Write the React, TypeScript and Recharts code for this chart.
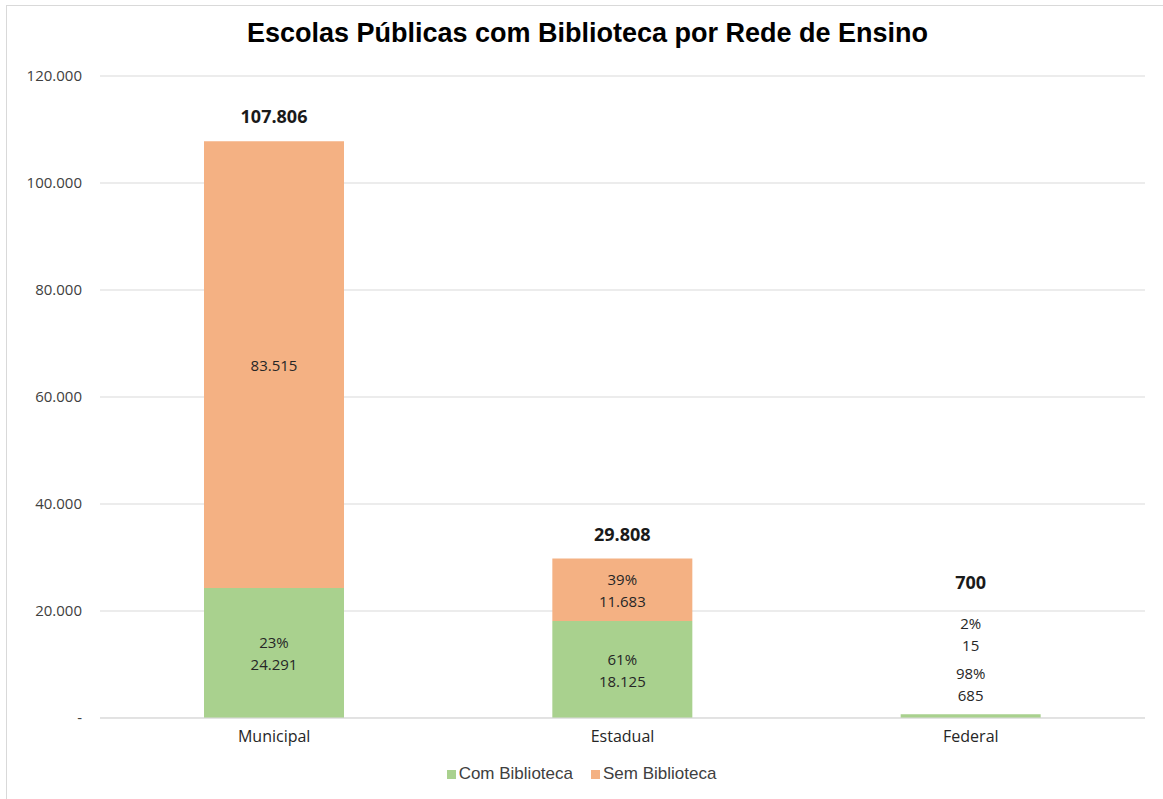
import React from 'react';
import { BarChart, Bar, XAxis, YAxis, CartesianGrid, LabelList } from 'recharts';

const categories = ['Municipal', 'Estadual', 'Federal'];
const comBiblioteca = [24291, 18125, 685];
const semBiblioteca = [83515, 11683, 15];
const comPct = ['23%', '61%', '98%'];
const semPct = ['', '39%', '2%'];
const yTicks = [0, 20000, 40000, 60000, 80000, 100000, 120000];

const GREEN = '#a9d18e';
const ORANGE = '#f4b183';
const LABEL_FONT = '"Open Sans", sans-serif';

const fmt = (n: number) => (n === 0 ? '-' : String(n).replace(/\B(?=(\d{3})+(?!\d))/g, '.'));

const chartData = categories.map((name, i) => ({
  name,
  com: comBiblioteca[i],
  sem: semBiblioteca[i],
  total: comBiblioteca[i] + semBiblioteca[i],
}));

// two-line label (pct + value), pushed above the bar when the segment is too thin
const segmentLabel = (pcts: string[], values: number[], liftIfSmall: number) => (props: any) => {
  const { x, y, width, height, index } = props;
  const cx = Number(x) + Number(width) / 2;
  const small = Math.abs(Number(height)) < 30;
  const cy = small ? Number(y) - liftIfSmall : Number(y) + Number(height) / 2;
  const pct = pcts[index];
  const style = { fontFamily: LABEL_FONT, fontSize: 15, fill: '#262626' };
  if (!pct) {
    return (
      <text x={cx} y={cy} textAnchor="middle" dominantBaseline="central" style={style}>
        {fmt(values[index])}
      </text>
    );
  }
  return (
    <g>
      <text x={cx} y={cy - 11} textAnchor="middle" dominantBaseline="central" style={style}>
        {pct}
      </text>
      <text x={cx} y={cy + 11} textAnchor="middle" dominantBaseline="central" style={style}>
        {fmt(values[index])}
      </text>
    </g>
  );
};

const totalLabel = (props: any) => {
  const { x, y, width, index } = props;
  const cx = Number(x) + Number(width) / 2;
  const total = chartData[index].total;
  const segH = Math.abs(Number(props.height));
  const greenSmall = comBiblioteca[index] * 642 / 120000 < 30;
  const cy = greenSmall && segH < 30 ? Number(y) - 132 : Number(y) - 25;
  return (
    <text
      x={cx}
      y={cy}
      textAnchor="middle"
      dominantBaseline="central"
      style={{ fontFamily: LABEL_FONT, fontSize: 18, fontWeight: 700, fill: '#1a1a1a' }}
    >
      {fmt(total)}
    </text>
  );
};

const LegendBox = () => (
  <div
    style={{
      position: 'absolute',
      top: 764,
      left: 0,
      width: 1163,
      display: 'flex',
      justifyContent: 'center',
      gap: 18,
      fontFamily: '"Liberation Sans", Arial, sans-serif',
      fontSize: 17,
      color: '#404040',
    }}
  >
    {[
      { label: 'Com Biblioteca', color: GREEN },
      { label: 'Sem Biblioteca', color: ORANGE },
    ].map((it) => (
      <div key={it.label} style={{ display: 'flex', alignItems: 'center', gap: 3 }}>
        <span style={{ width: 9, height: 9, background: it.color, display: 'inline-block' }} />
        <span>{it.label}</span>
      </div>
    ))}
  </div>
);

export default function App() {
  return (
    <div style={{ position: 'absolute', left: 0, top: 0, width: 1163, height: 799, background: '#fff', overflow: 'hidden' }}>
      <div
        style={{
          position: 'absolute',
          left: 6,
          top: 5,
          width: 1200,
          height: 900,
          borderLeft: '1px solid #d9d9d9',
          borderTop: '1px solid #d9d9d9',
        }}
      />
      <div
        style={{
          position: 'absolute',
          top: 18,
          left: 0,
          width: 1175,
          textAlign: 'center',
          fontFamily: '"Liberation Sans", Arial, sans-serif',
          fontWeight: 700,
          fontSize: 27,
          color: '#000',
        }}
      >
        Escolas Públicas com Biblioteca por Rede de Ensino
      </div>
      <div style={{ position: 'absolute', left: 0, top: 0 }}>
        <BarChart
          width={1163}
          height={799}
          data={chartData}
          margin={{ top: 76, right: 18, bottom: 0, left: 0 }}
          barSize={140}
        >
          <CartesianGrid vertical={false} stroke="#d9d9d9" />
          <XAxis
            dataKey="name"
            height={81}
            axisLine={{ stroke: '#d9d9d9' }}
            tickLine={false}
            tickSize={0}
            tickMargin={13}
            tick={{ fill: '#262626', fontSize: 16, fontFamily: LABEL_FONT }}
          />
          <YAxis
            width={100}
            domain={[0, 120000]}
            ticks={yTicks}
            axisLine={false}
            tickLine={false}
            tickSize={0}
            tickMargin={18}
            tickFormatter={fmt}
            tick={{ fill: '#404040', fontSize: 15, fontFamily: LABEL_FONT }}
          />
          <Bar dataKey="com" stackId="a" fill={GREEN} isAnimationActive={false}>
            <LabelList dataKey="com" content={segmentLabel(comPct, comBiblioteca, 30)} />
          </Bar>
          <Bar dataKey="sem" stackId="a" fill={ORANGE} isAnimationActive={false}>
            <LabelList dataKey="sem" content={segmentLabel(semPct, semBiblioteca, 80)} />
            <LabelList dataKey="total" content={totalLabel} />
          </Bar>
        </BarChart>
      </div>
      <LegendBox />
    </div>
  );
}
